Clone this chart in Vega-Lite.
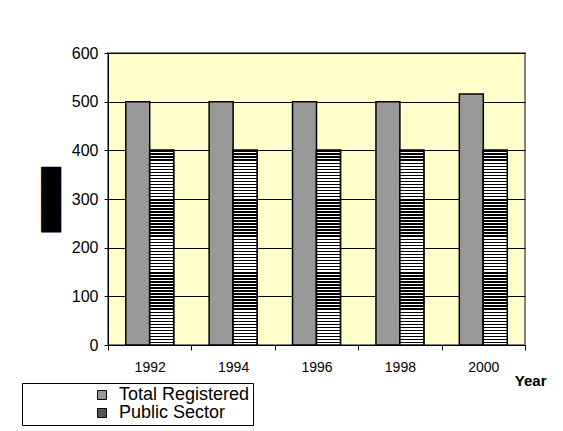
{
  "$schema": "https://vega.github.io/schema/vega-lite/v6.json",
  "width": 417,
  "height": 292,
  "autosize": {"type": "none"},
  "padding": {"left": 108, "top": 53, "right": 38, "bottom": 86},
  "background": "white",
  "config": {
    "font": "Liberation Sans",
    "view": {"fill": "#FFFFCC", "stroke": "#808080", "strokeWidth": 2}
  },
  "data": {
    "values": [
      {"year": "1992", "series": "Total Registered", "value": 500},
      {"year": "1992", "series": "Public Sector", "value": 400},
      {"year": "1994", "series": "Total Registered", "value": 500},
      {"year": "1994", "series": "Public Sector", "value": 400},
      {"year": "1996", "series": "Total Registered", "value": 500},
      {"year": "1996", "series": "Public Sector", "value": 400},
      {"year": "1998", "series": "Total Registered", "value": 500},
      {"year": "1998", "series": "Public Sector", "value": 400},
      {"year": "2000", "series": "Total Registered", "value": 516},
      {"year": "2000", "series": "Public Sector", "value": 400}
    ]
  },
  "encoding": {
    "x": {
      "field": "year", "type": "ordinal",
      "scale": {"paddingInner": 0, "paddingOuter": 0},
      "axis": {
        "title": "Year", "labelAngle": 0, "tickBand": "extent",
        "domainColor": "#000", "tickColor": "#000", "tickSize": 5,
        "labelFontSize": 14, "labelColor": "#000", "labelPadding": 10,
        "titleFontSize": 15, "titleFontWeight": "bold", "titleColor": "#000",
        "titleAnchor": "end", "titleAlign": "right", "titleBaseline": "middle",
        "titleX": 438, "titleY": 35
      }
    },
    "xOffset": {
      "field": "series", "type": "nominal",
      "scale": {"domain": ["Total Registered", "Public Sector"], "paddingInner": 0, "paddingOuter": 0.74}
    },
    "y": {
      "field": "value", "type": "quantitative",
      "scale": {"domain": [0, 600], "nice": false},
      "axis": {
        "title": "█████", "titleFont": "DejaVu Sans", "titleFontSize": 17, "titleColor": "#000",
        "titleAngle": 270, "titleAlign": "center", "titleBaseline": "middle",
        "titleX": -57, "titleY": 146,
        "values": [0, 100, 200, 300, 400, 500, 600],
        "grid": true, "gridColor": "#000", "gridWidth": 1, "gridOpacity": 1,
        "domainColor": "#000", "tickColor": "#000", "tickSize": 4,
        "labelFontSize": 16, "labelColor": "#000", "labelPadding": 6
      }
    }
  },
  "layer": [
    {
      "mark": {"type": "bar", "stroke": "#000", "strokeWidth": 1.5},
      "encoding": {
        "color": {
          "field": "series", "type": "nominal",
          "scale": {"domain": ["Total Registered", "Public Sector"], "range": ["#999999", "#555555"]},
          "legend": {
            "title": null, "orient": "none", "legendX": -86, "legendY": 330,
            "padding": 3, "strokeColor": "#000", "fillColor": "#fff",
            "symbolType": "square", "symbolSize": 80, "symbolStrokeColor": "#000", "symbolStrokeWidth": 1,
            "symbolOpacity": 1, "symbolOffset": 68,
            "labelFontSize": 18, "labelColor": "#000", "labelOffset": 8, "labelLimit": 400,
            "rowPadding": -2,
            "labelExpr": "datum.label + '\u00a0\u00a0\u00a0\u00a0\u00a0\u00a0\u00a0\u00a0\u00a0\u00a0\u00a0\u00a0\u00a0'"
          }
        }
      }
    },
    {
      "transform": [{"filter": "datum.series === 'Public Sector'"}],
      "mark": {
        "type": "bar", "stroke": "#000", "strokeWidth": 1.5,
        "color": {
          "x1": 0, "y1": 0, "x2": 0, "y2": 1, "gradient": "linear",
          "stops": [
            {"offset": 0, "color": "#000"}, {"offset": 0.0078, "color": "#000"}, {"offset": 0.0078, "color": "#fff"}, {"offset": 0.0156, "color": "#fff"},
            {"offset": 0.0156, "color": "#000"}, {"offset": 0.0234, "color": "#000"}, {"offset": 0.0234, "color": "#fff"}, {"offset": 0.0313, "color": "#fff"},
            {"offset": 0.0313, "color": "#000"}, {"offset": 0.0391, "color": "#000"}, {"offset": 0.0391, "color": "#fff"}, {"offset": 0.0469, "color": "#fff"},
            {"offset": 0.0469, "color": "#000"}, {"offset": 0.0547, "color": "#000"}, {"offset": 0.0547, "color": "#fff"}, {"offset": 0.0625, "color": "#fff"},
            {"offset": 0.0625, "color": "#000"}, {"offset": 0.0703, "color": "#000"}, {"offset": 0.0703, "color": "#fff"}, {"offset": 0.0781, "color": "#fff"},
            {"offset": 0.0781, "color": "#000"}, {"offset": 0.0859, "color": "#000"}, {"offset": 0.0859, "color": "#fff"}, {"offset": 0.0938, "color": "#fff"},
            {"offset": 0.0938, "color": "#000"}, {"offset": 0.1016, "color": "#000"}, {"offset": 0.1016, "color": "#fff"}, {"offset": 0.1094, "color": "#fff"},
            {"offset": 0.1094, "color": "#000"}, {"offset": 0.1172, "color": "#000"}, {"offset": 0.1172, "color": "#fff"}, {"offset": 0.125, "color": "#fff"},
            {"offset": 0.125, "color": "#000"}, {"offset": 0.1328, "color": "#000"}, {"offset": 0.1328, "color": "#fff"}, {"offset": 0.1406, "color": "#fff"},
            {"offset": 0.1406, "color": "#000"}, {"offset": 0.1484, "color": "#000"}, {"offset": 0.1484, "color": "#fff"}, {"offset": 0.1563, "color": "#fff"},
            {"offset": 0.1563, "color": "#000"}, {"offset": 0.1641, "color": "#000"}, {"offset": 0.1641, "color": "#fff"}, {"offset": 0.1719, "color": "#fff"},
            {"offset": 0.1719, "color": "#000"}, {"offset": 0.1797, "color": "#000"}, {"offset": 0.1797, "color": "#fff"}, {"offset": 0.1875, "color": "#fff"},
            {"offset": 0.1875, "color": "#000"}, {"offset": 0.1953, "color": "#000"}, {"offset": 0.1953, "color": "#fff"}, {"offset": 0.2031, "color": "#fff"},
            {"offset": 0.2031, "color": "#000"}, {"offset": 0.2109, "color": "#000"}, {"offset": 0.2109, "color": "#fff"}, {"offset": 0.2188, "color": "#fff"},
            {"offset": 0.2188, "color": "#000"}, {"offset": 0.2266, "color": "#000"}, {"offset": 0.2266, "color": "#fff"}, {"offset": 0.2344, "color": "#fff"},
            {"offset": 0.2344, "color": "#000"}, {"offset": 0.2422, "color": "#000"}, {"offset": 0.2422, "color": "#fff"}, {"offset": 0.25, "color": "#fff"},
            {"offset": 0.25, "color": "#000"}, {"offset": 0.2578, "color": "#000"}, {"offset": 0.2578, "color": "#fff"}, {"offset": 0.2656, "color": "#fff"},
            {"offset": 0.2656, "color": "#000"}, {"offset": 0.2734, "color": "#000"}, {"offset": 0.2734, "color": "#fff"}, {"offset": 0.2813, "color": "#fff"},
            {"offset": 0.2813, "color": "#000"}, {"offset": 0.2891, "color": "#000"}, {"offset": 0.2891, "color": "#fff"}, {"offset": 0.2969, "color": "#fff"},
            {"offset": 0.2969, "color": "#000"}, {"offset": 0.3047, "color": "#000"}, {"offset": 0.3047, "color": "#fff"}, {"offset": 0.3125, "color": "#fff"},
            {"offset": 0.3125, "color": "#000"}, {"offset": 0.3203, "color": "#000"}, {"offset": 0.3203, "color": "#fff"}, {"offset": 0.3281, "color": "#fff"},
            {"offset": 0.3281, "color": "#000"}, {"offset": 0.3359, "color": "#000"}, {"offset": 0.3359, "color": "#fff"}, {"offset": 0.3438, "color": "#fff"},
            {"offset": 0.3438, "color": "#000"}, {"offset": 0.3516, "color": "#000"}, {"offset": 0.3516, "color": "#fff"}, {"offset": 0.3594, "color": "#fff"},
            {"offset": 0.3594, "color": "#000"}, {"offset": 0.3672, "color": "#000"}, {"offset": 0.3672, "color": "#fff"}, {"offset": 0.375, "color": "#fff"},
            {"offset": 0.375, "color": "#000"}, {"offset": 0.3828, "color": "#000"}, {"offset": 0.3828, "color": "#fff"}, {"offset": 0.3906, "color": "#fff"},
            {"offset": 0.3906, "color": "#000"}, {"offset": 0.3984, "color": "#000"}, {"offset": 0.3984, "color": "#fff"}, {"offset": 0.4063, "color": "#fff"},
            {"offset": 0.4063, "color": "#000"}, {"offset": 0.4141, "color": "#000"}, {"offset": 0.4141, "color": "#fff"}, {"offset": 0.4219, "color": "#fff"},
            {"offset": 0.4219, "color": "#000"}, {"offset": 0.4297, "color": "#000"}, {"offset": 0.4297, "color": "#fff"}, {"offset": 0.4375, "color": "#fff"},
            {"offset": 0.4375, "color": "#000"}, {"offset": 0.4453, "color": "#000"}, {"offset": 0.4453, "color": "#fff"}, {"offset": 0.4531, "color": "#fff"},
            {"offset": 0.4531, "color": "#000"}, {"offset": 0.4609, "color": "#000"}, {"offset": 0.4609, "color": "#fff"}, {"offset": 0.4688, "color": "#fff"},
            {"offset": 0.4688, "color": "#000"}, {"offset": 0.4766, "color": "#000"}, {"offset": 0.4766, "color": "#fff"}, {"offset": 0.4844, "color": "#fff"},
            {"offset": 0.4844, "color": "#000"}, {"offset": 0.4922, "color": "#000"}, {"offset": 0.4922, "color": "#fff"}, {"offset": 0.5, "color": "#fff"},
            {"offset": 0.5, "color": "#000"}, {"offset": 0.5078, "color": "#000"}, {"offset": 0.5078, "color": "#fff"}, {"offset": 0.5156, "color": "#fff"},
            {"offset": 0.5156, "color": "#000"}, {"offset": 0.5234, "color": "#000"}, {"offset": 0.5234, "color": "#fff"}, {"offset": 0.5313, "color": "#fff"},
            {"offset": 0.5313, "color": "#000"}, {"offset": 0.5391, "color": "#000"}, {"offset": 0.5391, "color": "#fff"}, {"offset": 0.5469, "color": "#fff"},
            {"offset": 0.5469, "color": "#000"}, {"offset": 0.5547, "color": "#000"}, {"offset": 0.5547, "color": "#fff"}, {"offset": 0.5625, "color": "#fff"},
            {"offset": 0.5625, "color": "#000"}, {"offset": 0.5703, "color": "#000"}, {"offset": 0.5703, "color": "#fff"}, {"offset": 0.5781, "color": "#fff"},
            {"offset": 0.5781, "color": "#000"}, {"offset": 0.5859, "color": "#000"}, {"offset": 0.5859, "color": "#fff"}, {"offset": 0.5938, "color": "#fff"},
            {"offset": 0.5938, "color": "#000"}, {"offset": 0.6016, "color": "#000"}, {"offset": 0.6016, "color": "#fff"}, {"offset": 0.6094, "color": "#fff"},
            {"offset": 0.6094, "color": "#000"}, {"offset": 0.6172, "color": "#000"}, {"offset": 0.6172, "color": "#fff"}, {"offset": 0.625, "color": "#fff"},
            {"offset": 0.625, "color": "#000"}, {"offset": 0.6328, "color": "#000"}, {"offset": 0.6328, "color": "#fff"}, {"offset": 0.6406, "color": "#fff"},
            {"offset": 0.6406, "color": "#000"}, {"offset": 0.6484, "color": "#000"}, {"offset": 0.6484, "color": "#fff"}, {"offset": 0.6563, "color": "#fff"},
            {"offset": 0.6563, "color": "#000"}, {"offset": 0.6641, "color": "#000"}, {"offset": 0.6641, "color": "#fff"}, {"offset": 0.6719, "color": "#fff"},
            {"offset": 0.6719, "color": "#000"}, {"offset": 0.6797, "color": "#000"}, {"offset": 0.6797, "color": "#fff"}, {"offset": 0.6875, "color": "#fff"},
            {"offset": 0.6875, "color": "#000"}, {"offset": 0.6953, "color": "#000"}, {"offset": 0.6953, "color": "#fff"}, {"offset": 0.7031, "color": "#fff"},
            {"offset": 0.7031, "color": "#000"}, {"offset": 0.7109, "color": "#000"}, {"offset": 0.7109, "color": "#fff"}, {"offset": 0.7188, "color": "#fff"},
            {"offset": 0.7188, "color": "#000"}, {"offset": 0.7266, "color": "#000"}, {"offset": 0.7266, "color": "#fff"}, {"offset": 0.7344, "color": "#fff"},
            {"offset": 0.7344, "color": "#000"}, {"offset": 0.7422, "color": "#000"}, {"offset": 0.7422, "color": "#fff"}, {"offset": 0.75, "color": "#fff"},
            {"offset": 0.75, "color": "#000"}, {"offset": 0.7578, "color": "#000"}, {"offset": 0.7578, "color": "#fff"}, {"offset": 0.7656, "color": "#fff"},
            {"offset": 0.7656, "color": "#000"}, {"offset": 0.7734, "color": "#000"}, {"offset": 0.7734, "color": "#fff"}, {"offset": 0.7813, "color": "#fff"},
            {"offset": 0.7813, "color": "#000"}, {"offset": 0.7891, "color": "#000"}, {"offset": 0.7891, "color": "#fff"}, {"offset": 0.7969, "color": "#fff"},
            {"offset": 0.7969, "color": "#000"}, {"offset": 0.8047, "color": "#000"}, {"offset": 0.8047, "color": "#fff"}, {"offset": 0.8125, "color": "#fff"},
            {"offset": 0.8125, "color": "#000"}, {"offset": 0.8203, "color": "#000"}, {"offset": 0.8203, "color": "#fff"}, {"offset": 0.8281, "color": "#fff"},
            {"offset": 0.8281, "color": "#000"}, {"offset": 0.8359, "color": "#000"}, {"offset": 0.8359, "color": "#fff"}, {"offset": 0.8438, "color": "#fff"},
            {"offset": 0.8438, "color": "#000"}, {"offset": 0.8516, "color": "#000"}, {"offset": 0.8516, "color": "#fff"}, {"offset": 0.8594, "color": "#fff"},
            {"offset": 0.8594, "color": "#000"}, {"offset": 0.8672, "color": "#000"}, {"offset": 0.8672, "color": "#fff"}, {"offset": 0.875, "color": "#fff"},
            {"offset": 0.875, "color": "#000"}, {"offset": 0.8828, "color": "#000"}, {"offset": 0.8828, "color": "#fff"}, {"offset": 0.8906, "color": "#fff"},
            {"offset": 0.8906, "color": "#000"}, {"offset": 0.8984, "color": "#000"}, {"offset": 0.8984, "color": "#fff"}, {"offset": 0.9063, "color": "#fff"},
            {"offset": 0.9063, "color": "#000"}, {"offset": 0.9141, "color": "#000"}, {"offset": 0.9141, "color": "#fff"}, {"offset": 0.9219, "color": "#fff"},
            {"offset": 0.9219, "color": "#000"}, {"offset": 0.9297, "color": "#000"}, {"offset": 0.9297, "color": "#fff"}, {"offset": 0.9375, "color": "#fff"},
            {"offset": 0.9375, "color": "#000"}, {"offset": 0.9453, "color": "#000"}, {"offset": 0.9453, "color": "#fff"}, {"offset": 0.9531, "color": "#fff"},
            {"offset": 0.9531, "color": "#000"}, {"offset": 0.9609, "color": "#000"}, {"offset": 0.9609, "color": "#fff"}, {"offset": 0.9688, "color": "#fff"},
            {"offset": 0.9688, "color": "#000"}, {"offset": 0.9766, "color": "#000"}, {"offset": 0.9766, "color": "#fff"}, {"offset": 0.9844, "color": "#fff"},
            {"offset": 0.9844, "color": "#000"}, {"offset": 0.9922, "color": "#000"}, {"offset": 0.9922, "color": "#fff"}, {"offset": 1, "color": "#fff"}
          ]
        }
      }
    }
  ]
}
